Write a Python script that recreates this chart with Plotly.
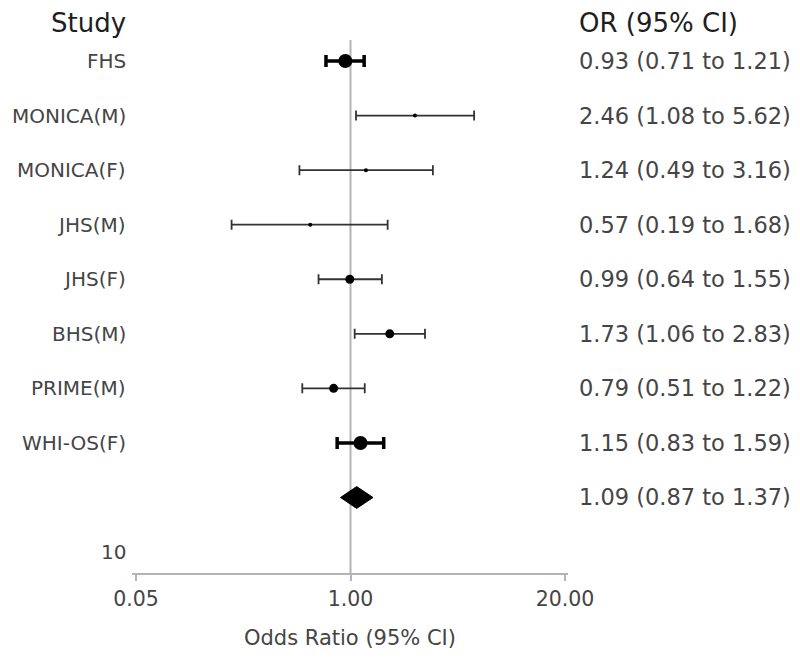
import plotly.graph_objects as go

# ---- data ----
studies = ["FHS", "MONICA(M)", "MONICA(F)", "JHS(M)", "JHS(F)", "BHS(M)", "PRIME(M)", "WHI-OS(F)"]
odds_ratio = [0.93, 2.46, 1.24, 0.57, 0.99, 1.73, 0.79, 1.15]
ci_low = [0.71, 1.08, 0.49, 0.19, 0.64, 1.06, 0.51, 0.83]
ci_high = [1.21, 5.62, 3.16, 1.68, 1.55, 2.83, 1.22, 1.59]
pooled_or = 1.09
pooled_low = 0.87
pooled_high = 1.37
extra_row_label = "10"
tick_values = [0.05, 1.0, 20.0]
tick_labels = ["0.05", "1.00", "20.00"]

# ---- style ----
marker_size = {"FHS": 14, "MONICA(M)": 4, "MONICA(F)": 4, "JHS(M)": 4,
               "JHS(F)": 9, "BHS(M)": 9, "PRIME(M)": 9, "WHI-OS(F)": 14}
heavy = {"FHS", "WHI-OS(F)"}
FONT = "DejaVu Sans"
LABEL_COL = "#454545"
HEAD_COL = "#1e1e1e"
GRID_COL = "#b4b4b4"

fig = go.Figure()

n = len(studies)
for i, s in enumerate(studies):
    thick = s in heavy
    fig.add_trace(go.Scatter(
        x=[odds_ratio[i]], y=[i], mode="markers",
        marker=dict(size=marker_size[s], color="black"),
        error_x=dict(type="data", symmetric=False,
                     array=[ci_high[i] - odds_ratio[i]],
                     arrayminus=[odds_ratio[i] - ci_low[i]],
                     color="black" if thick else "#333333",
                     thickness=3.5 if thick else 1.8,
                     width=6 if thick else 5),
        showlegend=False, hoverinfo="skip", cliponaxis=False))

# pooled diamond
py = n
h = 0.2
fig.add_trace(go.Scatter(
    x=[pooled_low, pooled_or, pooled_high, pooled_or, pooled_low],
    y=[py, py - h, py, py + h, py],
    mode="lines", fill="toself", fillcolor="black",
    line=dict(color="black", width=1), showlegend=False, hoverinfo="skip"))

# reference line at OR = 1
fig.add_shape(type="line", x0=1, x1=1, xref="x", y0=0, y1=1, yref="paper",
              line=dict(color=GRID_COL, width=2), layer="below")

ann = []
row_labels = studies + ["", extra_row_label]
for i, lab in enumerate(row_labels):
    if lab:
        ann.append(dict(x=-0.0092, xref="paper", y=i, yref="y", text=lab,
                        showarrow=False, xanchor="right", yanchor="middle",
                        font=dict(family=FONT, size=20, color=LABEL_COL)))
val_text = [f"{o:.2f} ({l:.2f} to {u:.2f})" for o, l, u in zip(odds_ratio, ci_low, ci_high)]
val_text.append(f"{pooled_or:.2f} ({pooled_low:.2f} to {pooled_high:.2f})")
for i, t in enumerate(val_text):
    ann.append(dict(x=1.0206, xref="paper", y=i, yref="y", text=t,
                    showarrow=False, xanchor="left", yanchor="middle",
                    font=dict(family=FONT, size=22.5, color=LABEL_COL)))
ann.append(dict(x=-0.0092, xref="paper", y=1.032, yref="paper", text="Study",
                showarrow=False, xanchor="right", yanchor="middle",
                font=dict(family=FONT, size=26, color=HEAD_COL)))
ann.append(dict(x=1.0206, xref="paper", y=1.032, yref="paper", text="OR (95% CI)",
                showarrow=False, xanchor="left", yanchor="middle",
                font=dict(family=FONT, size=26, color=HEAD_COL)))
ann.append(dict(x=0.5, xref="paper", y=-0.122, yref="paper", text="Odds Ratio (95% CI)",
                showarrow=False, xanchor="center", yanchor="middle",
                font=dict(family=FONT, size=21, color=LABEL_COL)))

fig.update_layout(
    width=800, height=662,
    margin=dict(l=124, r=240, t=32, b=97),
    plot_bgcolor="white", paper_bgcolor="white",
    annotations=ann,
    xaxis=dict(type="log", range=[-1.3253, 1.3192], tickvals=tick_values, ticktext=tick_labels,
               showgrid=False, zeroline=False, showline=True, linecolor=GRID_COL, linewidth=2,
               ticks="outside", ticklen=6, tickwidth=1.5, tickcolor=GRID_COL,
               tickfont=dict(family=FONT, size=20.5, color=LABEL_COL)),
    yaxis=dict(range=[9.384, -0.385], showgrid=False, zeroline=False, showline=False,
               showticklabels=False, ticks=""),
)

fig.write_html("out.html")
